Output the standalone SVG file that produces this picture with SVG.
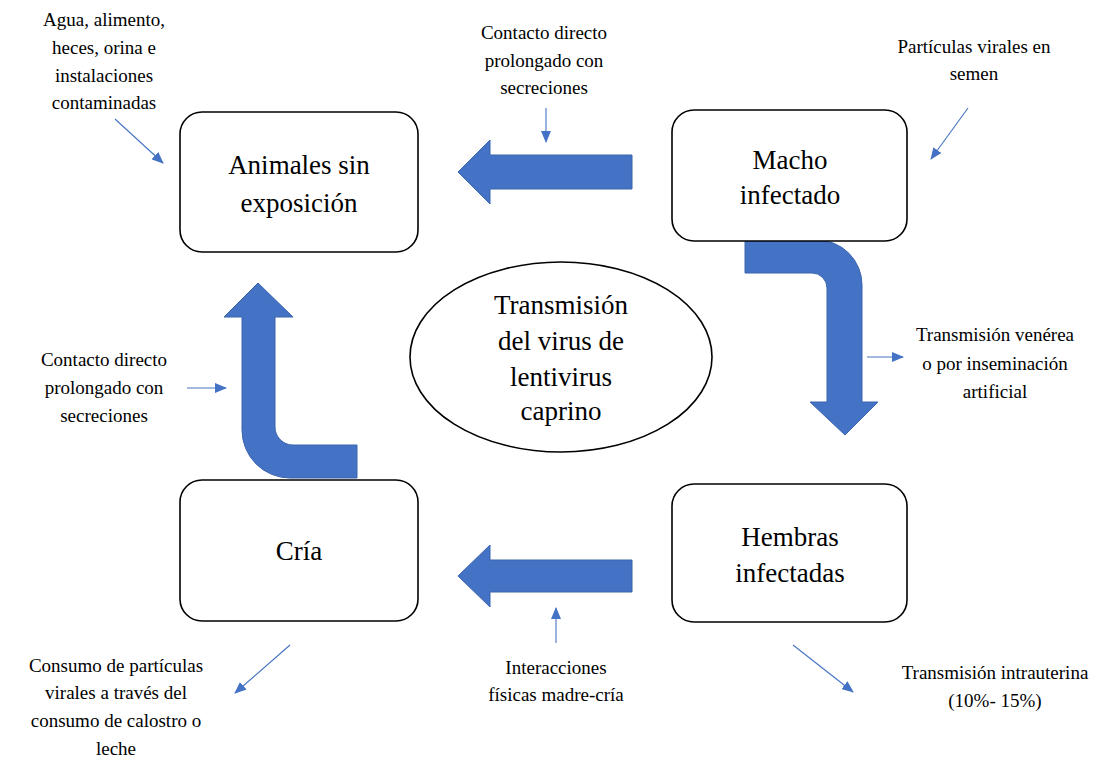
<svg xmlns="http://www.w3.org/2000/svg" width="1113" height="759" viewBox="0 0 1113 759">
<defs>
<style>
.box{fill:#fff;stroke:#000;stroke-width:1.6}
.big{font-size:27px;fill:#000;text-anchor:middle}
.sm{font-size:19px;fill:#000;text-anchor:middle}
.blk{fill:#4472C4;stroke:#3B64AE;stroke-width:1}
.thin{stroke:#4472C4;stroke-width:1.1;fill:none;marker-end:url(#ah)}
</style>
<marker id="ah" markerUnits="userSpaceOnUse" markerWidth="12" markerHeight="10" viewBox="0 0 12 10" refX="11" refY="5" orient="auto">
<path d="M0,0 L12,5 L0,10 Z" fill="#4472C4"/>
</marker>
</defs>
<rect width="1113" height="759" fill="#fff"/>

<g id="connectors">
<path class="blk" d="M632,155 L490,155 L490,140 L458,172 L490,204 L490,189 L632,189 Z"/>
<path class="blk" d="M632,560 L490,560 L490,545 L458,576 L490,607 L490,592 L632,592 Z"/>
<path class="blk" d="M745,240 L817,240 A45 45 0 0 1 862,285 L862,402 L878,402 L845,435 L810,402 L827,402 L827,288 A15 15 0 0 0 812,273 L745,273 Z"/>
<path class="blk" d="M258,283 L293,317 L275,317 L275,427 A18 18 0 0 0 293,445 L357,445 L357,478 L290,478 A48 48 0 0 1 242,430 L242,317 L224,317 Z"/>
<line class="thin" x1="115" y1="119" x2="163" y2="163"/>
<line class="thin" x1="546" y1="108" x2="546" y2="142"/>
<line class="thin" x1="968" y1="108" x2="931" y2="159"/>
<line class="thin" x1="867" y1="357" x2="903" y2="357"/>
<line class="thin" x1="187" y1="388" x2="226" y2="388"/>
<line class="thin" x1="556" y1="643" x2="556" y2="608"/>
<line class="thin" x1="290" y1="645" x2="235" y2="693"/>
<line class="thin" x1="793" y1="645" x2="853" y2="692"/>
</g>

<g font-family="'Liberation Serif', 'Times New Roman', Times, serif">
<g id="node-animales">
<rect class="box" x="180" y="112" width="238" height="140" rx="22"/>
<text class="big" x="299" y="174">Animales sin</text>
<text class="big" x="299" y="212">exposición</text>
</g>
<g id="node-macho">
<rect class="box" x="672" y="110" width="235" height="131" rx="22"/>
<text class="big" x="790" y="169">Macho</text>
<text class="big" x="790" y="204">infectado</text>
</g>
<g id="node-cria">
<rect class="box" x="180" y="480" width="238" height="141" rx="22"/>
<text class="big" x="299" y="560">Cría</text>
</g>
<g id="node-hembras">
<rect class="box" x="672" y="484" width="235" height="138" rx="22"/>
<text class="big" x="790" y="546">Hembras</text>
<text class="big" x="790" y="582">infectadas</text>
</g>
<g id="node-centro">
<ellipse class="box" cx="561" cy="357" rx="151" ry="95"/>
<text class="big" x="561" y="314">Transmisión</text>
<text class="big" x="561" y="350">del virus de</text>
<text class="big" x="561" y="386">lentivirus</text>
<text class="big" x="561" y="420">caprino</text>
</g>

<g id="labels">
<text class="sm" x="104" y="26">Agua, alimento,</text>
<text class="sm" x="104" y="54">heces, orina e</text>
<text class="sm" x="104" y="82">instalaciones</text>
<text class="sm" x="104" y="109">contaminadas</text>

<text class="sm" x="544" y="39">Contacto directo</text>
<text class="sm" x="544" y="67">prolongado con</text>
<text class="sm" x="544" y="94">secreciones</text>

<text class="sm" x="974" y="53">Partículas virales en</text>
<text class="sm" x="974" y="80">semen</text>

<text class="sm" x="995" y="341">Transmisión venérea</text>
<text class="sm" x="995" y="370">o por inseminación</text>
<text class="sm" x="995" y="398">artificial</text>

<text class="sm" x="104" y="366">Contacto directo</text>
<text class="sm" x="104" y="394">prolongado con</text>
<text class="sm" x="104" y="422">secreciones</text>

<text class="sm" x="556" y="674">Interacciones</text>
<text class="sm" x="556" y="701">físicas madre-cría</text>

<text class="sm" x="116" y="672">Consumo de partículas</text>
<text class="sm" x="116" y="699">virales a través del</text>
<text class="sm" x="116" y="727">consumo de calostro o</text>
<text class="sm" x="116" y="755">leche</text>

<text class="sm" x="995" y="679">Transmisión intrauterina</text>
<text class="sm" x="995" y="707">(10%- 15%)</text>
</g>
</g>
</svg>
